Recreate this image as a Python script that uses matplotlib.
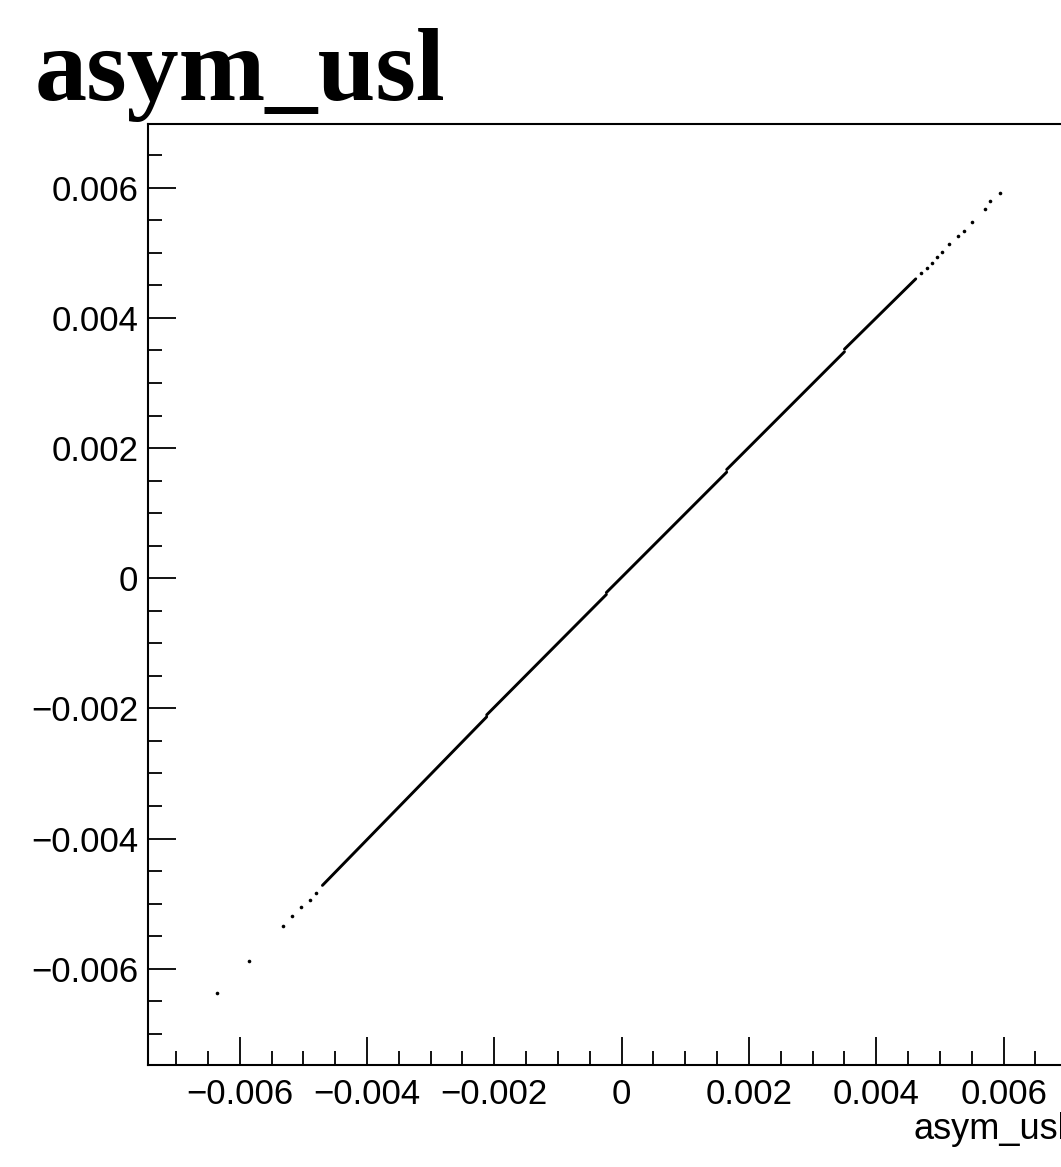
import matplotlib
matplotlib.use("Agg")
import matplotlib.pyplot as plt
from matplotlib.ticker import MultipleLocator, FuncFormatter


TITLE = "asym_usl"
X_LABEL = "asym_usl"

# dense band along the diagonal, read as straight pieces (x, y) start/end
seg_x0 = [-0.00470, -0.00212, -0.00024, 0.00165, 0.00350]
seg_y0 = [-0.00472, -0.00210, -0.00022, 0.00167, 0.00352]
seg_x1 = [-0.00212, -0.00024, 0.00165, 0.00350, 0.00462]
seg_y1 = [-0.00213, -0.00025, 0.00163, 0.00348, 0.00460]

# isolated points at the two tails
tail_x = [-0.00636, -0.00586, -0.00532, -0.00518, -0.00503, -0.00490,
          -0.00480, 0.00470, 0.00479, 0.00487, 0.00496, 0.00503, 0.00515,
          0.00528, 0.00537, 0.00550, 0.00570, 0.00578, 0.00595]
tail_y = [-0.00637, -0.00588, -0.00535, -0.00519, -0.00505, -0.00494,
          -0.00483, 0.00469, 0.00477, 0.00485, 0.00493, 0.00502, 0.00514,
          0.00526, 0.00534, 0.00547, 0.00567, 0.00579, 0.00592]

X_RANGE = (-0.00744, 0.00698)
Y_RANGE = (-0.00748, 0.00698)


def root_fmt(v, pos):
    v = round(v, 6)
    if v == 0:
        return "0"
    return f"{v:g}".replace("-", "\u2212")


def main():
    plt.rcParams['font.family'] = ['Liberation Sans', 'DejaVu Sans']

    fig = plt.figure(figsize=(10.61, 11.67), dpi=100)
    ax = fig.add_axes([148 / 1061, 102 / 1167, 918 / 1061, 941 / 1167])

    for x0, y0, x1, y1 in zip(seg_x0, seg_y0, seg_x1, seg_y1):
        ax.plot([x0, x1], [y0, y1], color='black', lw=2.1,
                solid_capstyle='round')
    ax.plot(tail_x, tail_y, linestyle='none', marker='o', ms=2.6,
            color='black', markeredgewidth=0)

    ax.set_xlim(*X_RANGE)
    ax.set_ylim(*Y_RANGE)

    for axis in (ax.xaxis, ax.yaxis):
        axis.set_major_locator(MultipleLocator(0.002))
        axis.set_minor_locator(MultipleLocator(0.0005))
        axis.set_major_formatter(FuncFormatter(root_fmt))

    ax.tick_params(which='both', direction='in', top=False, right=False,
                   width=1.3, colors='black', labelsize=25)
    ax.tick_params(which='major', length=20)
    ax.tick_params(which='minor', length=10)
    ax.tick_params(axis='y', pad=7)
    ax.tick_params(axis='x', pad=9)

    for sp in ax.spines.values():
        sp.set_linewidth(1.5)

    ax.set_xlabel(X_LABEL, fontsize=26, ha='right', va='center')
    ax.xaxis.set_label_coords(1.0, -0.069)

    fig.text(35 / 1061, 1 - 100 / 1167, TITLE, family='Liberation Serif',
             weight='bold', fontsize=75, va='baseline', ha='left')

    fig.savefig("out.png", dpi=100)
    plt.close(fig)


if __name__ == "__main__":
    main()
